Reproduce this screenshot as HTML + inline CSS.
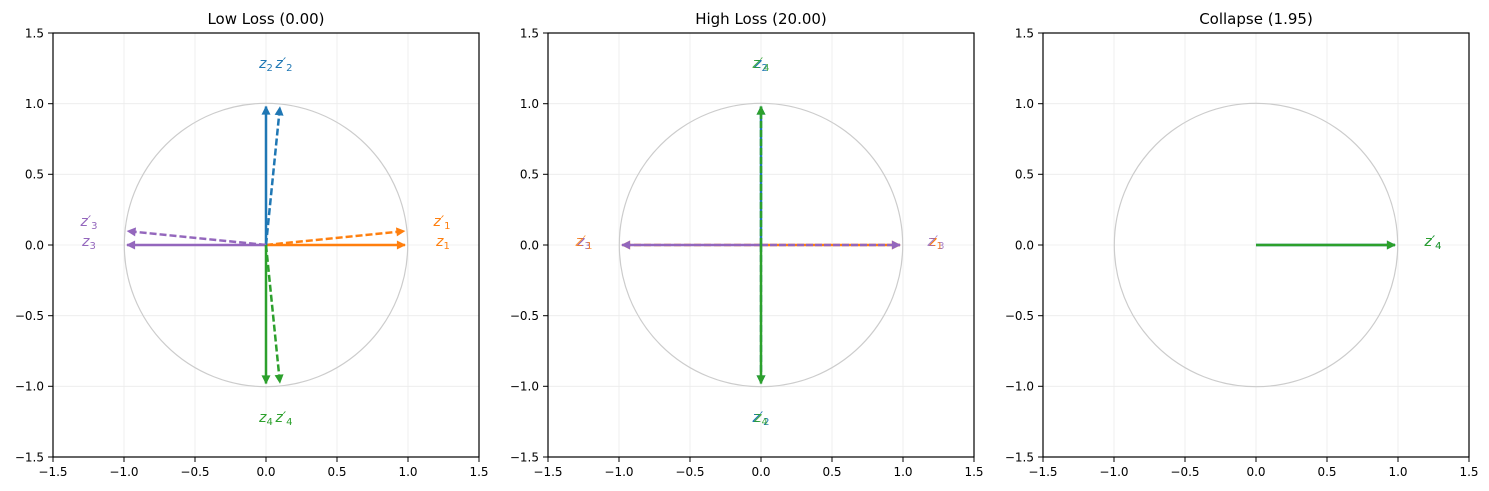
<!DOCTYPE html>
<html><head><meta charset="utf-8"><style>
body{margin:0;background:#fff}
svg{display:block}
text{font-family:"DejaVu Sans","Liberation Sans",sans-serif}
.t{font-size:12px;fill:#000}
.lb{font-size:14px;font-style:italic}
.sb{font-size:10px;font-style:normal}
</style></head><body>
<svg width="1489" height="491" viewBox="0 0 1489 491" xmlns="http://www.w3.org/2000/svg">
<defs>
<marker id="mb" viewBox="0 0 10 10" refX="9" refY="5" markerWidth="10" markerHeight="9" markerUnits="userSpaceOnUse" orient="auto"><path d="M0,0 L10,5 L0,10 z" fill="#1f77b4"/></marker>
<marker id="mo" viewBox="0 0 10 10" refX="9" refY="5" markerWidth="10" markerHeight="9" markerUnits="userSpaceOnUse" orient="auto"><path d="M0,0 L10,5 L0,10 z" fill="#ff7f0e"/></marker>
<marker id="mp" viewBox="0 0 10 10" refX="9" refY="5" markerWidth="10" markerHeight="9" markerUnits="userSpaceOnUse" orient="auto"><path d="M0,0 L10,5 L0,10 z" fill="#9467bd"/></marker>
<marker id="mg" viewBox="0 0 10 10" refX="9" refY="5" markerWidth="10" markerHeight="9" markerUnits="userSpaceOnUse" orient="auto"><path d="M0,0 L10,5 L0,10 z" fill="#2ca02c"/></marker>
<g id="axes">
<g stroke="#ebebeb" stroke-width="0.8">
<line x1="53" y1="33" x2="53" y2="457"/><line x1="124" y1="33" x2="124" y2="457"/><line x1="195" y1="33" x2="195" y2="457"/><line x1="266" y1="33" x2="266" y2="457"/><line x1="337" y1="33" x2="337" y2="457"/><line x1="408" y1="33" x2="408" y2="457"/>
<line x1="53" y1="103.7" x2="479" y2="103.7"/><line x1="53" y1="174.3" x2="479" y2="174.3"/><line x1="53" y1="245" x2="479" y2="245"/><line x1="53" y1="315.7" x2="479" y2="315.7"/><line x1="53" y1="386.3" x2="479" y2="386.3"/>
</g>
<circle cx="266" cy="245" r="141.7" fill="none" stroke="#cccccc" stroke-width="1.2"/>
<rect x="53" y="33" width="426" height="424" fill="none" stroke="#000" stroke-width="1.2"/>
<g stroke="#000" stroke-width="1">
<line x1="53" y1="457" x2="53" y2="462"/><line x1="124" y1="457" x2="124" y2="462"/><line x1="195" y1="457" x2="195" y2="462"/><line x1="266" y1="457" x2="266" y2="462"/><line x1="337" y1="457" x2="337" y2="462"/><line x1="408" y1="457" x2="408" y2="462"/><line x1="479" y1="457" x2="479" y2="462"/>
<line x1="48" y1="33" x2="53" y2="33"/><line x1="48" y1="103.7" x2="53" y2="103.7"/><line x1="48" y1="174.3" x2="53" y2="174.3"/><line x1="48" y1="245" x2="53" y2="245"/><line x1="48" y1="315.7" x2="53" y2="315.7"/><line x1="48" y1="386.3" x2="53" y2="386.3"/><line x1="48" y1="457" x2="53" y2="457"/>
</g>
<g class="t" text-anchor="middle">
<text x="53" y="476">−1.5</text><text x="124" y="476">−1.0</text><text x="195" y="476">−0.5</text><text x="266" y="476">0.0</text><text x="337" y="476">0.5</text><text x="408" y="476">1.0</text><text x="479" y="476">1.5</text>
</g>
<g class="t" text-anchor="end">
<text x="44" y="37.5">1.5</text><text x="44" y="108">1.0</text><text x="44" y="178.7">0.5</text><text x="44" y="249.5">0.0</text><text x="44" y="320">−0.5</text><text x="44" y="390.7">−1.0</text><text x="44" y="461.5">−1.5</text>
</g>
</g>
</defs>

<!-- Panel 1 -->
<use href="#axes"/>
<text x="266" y="24" text-anchor="middle" font-size="15">Low Loss  (0.00)</text>
<g stroke-width="2.5" fill="none">
<line x1="266" y1="245" x2="405" y2="245" stroke="#ff7f0e" marker-end="url(#mo)"/>
<line x1="266" y1="245" x2="404.5" y2="231.1" stroke="#ff7f0e" stroke-dasharray="7,3" marker-end="url(#mo)"/>
<line x1="266" y1="245" x2="266" y2="106.5" stroke="#1f77b4" marker-end="url(#mb)"/>
<line x1="266" y1="245" x2="279.9" y2="107.2" stroke="#1f77b4" stroke-dasharray="7,3" marker-end="url(#mb)"/>
<line x1="266" y1="245" x2="127" y2="245" stroke="#9467bd" marker-end="url(#mp)"/>
<line x1="266" y1="245" x2="127.5" y2="231.1" stroke="#9467bd" stroke-dasharray="7,3" marker-end="url(#mp)"/>
<line x1="266" y1="245" x2="266" y2="383.5" stroke="#2ca02c" marker-end="url(#mg)"/>
<line x1="266" y1="245" x2="279.9" y2="382.8" stroke="#2ca02c" stroke-dasharray="7,3" marker-end="url(#mg)"/>
</g>
<g class="lb" text-anchor="middle">
<text x="266" y="68" fill="#1f77b4">z<tspan class="sb" dy="3">2</tspan></text>
<text x="284" y="68" fill="#1f77b4">z′<tspan class="sb" dy="3">2</tspan></text>
<text x="443" y="246" fill="#ff7f0e">z<tspan class="sb" dy="3">1</tspan></text>
<text x="442" y="226" fill="#ff7f0e">z′<tspan class="sb" dy="3">1</tspan></text>
<text x="89" y="246" fill="#9467bd">z<tspan class="sb" dy="3">3</tspan></text>
<text x="89" y="226" fill="#9467bd">z′<tspan class="sb" dy="3">3</tspan></text>
<text x="266" y="422" fill="#2ca02c">z<tspan class="sb" dy="3">4</tspan></text>
<text x="284" y="422" fill="#2ca02c">z′<tspan class="sb" dy="3">4</tspan></text>
</g>

<!-- Panel 2 -->
<g transform="translate(495,0)">
<use href="#axes"/>
<text x="266" y="24" text-anchor="middle" font-size="15">High Loss (20.00)</text>
<g stroke-width="2.5" fill="none">
<line x1="266" y1="245" x2="405" y2="245" stroke="#ff7f0e" marker-end="url(#mo)"/>
<line x1="266" y1="245" x2="405" y2="245" stroke="#9467bd" stroke-dasharray="7,2" marker-end="url(#mp)"/>
<line x1="266" y1="245" x2="127" y2="245" stroke="#ff7f0e" stroke-dasharray="7,3" marker-end="url(#mo)"/>
<line x1="266" y1="245" x2="127" y2="245" stroke="#9467bd" marker-end="url(#mp)"/>
<line x1="266" y1="245" x2="266" y2="106.5" stroke="#1f77b4" marker-end="url(#mb)"/>
<line x1="266" y1="245" x2="266" y2="106.5" stroke="#2ca02c" stroke-dasharray="7,2" marker-end="url(#mg)"/>
<line x1="266" y1="245" x2="266" y2="383.5" stroke="#1f77b4" stroke-dasharray="7,3" marker-end="url(#mb)"/>
<line x1="266" y1="245" x2="266" y2="383.5" stroke="#2ca02c" marker-end="url(#mg)"/>
</g>
<g class="lb" text-anchor="middle">
<text x="266" y="68" fill="#1f77b4">z<tspan class="sb" dy="3">2</tspan></text>
<text x="266" y="68" fill="#2ca02c" opacity="0.85">z′<tspan class="sb" dy="3">4</tspan></text>
<text x="441" y="246" fill="#ff7f0e">z<tspan class="sb" dy="3">1</tspan></text>
<text x="441" y="246" fill="#9467bd" opacity="0.8">z′<tspan class="sb" dy="3">3</tspan></text>
<text x="89" y="246" fill="#9467bd">z<tspan class="sb" dy="3">3</tspan></text>
<text x="89" y="246" fill="#ff7f0e" opacity="0.8">z′<tspan class="sb" dy="3">1</tspan></text>
<text x="266" y="422" fill="#1f77b4">z′<tspan class="sb" dy="3">2</tspan></text>
<text x="266" y="422" fill="#2ca02c" opacity="0.85">z<tspan class="sb" dy="3">4</tspan></text>
</g>
</g>

<!-- Panel 3 -->
<g transform="translate(990,0)">
<use href="#axes"/>
<text x="266" y="24" text-anchor="middle" font-size="15">Collapse  (1.95)</text>
<g stroke-width="2.5" fill="none">
<line x1="266" y1="245" x2="405" y2="245" stroke="#1f77b4" marker-end="url(#mb)"/>
<line x1="266" y1="245" x2="405" y2="245" stroke="#2ca02c" marker-end="url(#mg)"/>
</g>
<g class="lb" text-anchor="middle">
<text x="443" y="246" fill="#1f77b4">z′<tspan class="sb" dy="3">4</tspan></text>
<text x="443" y="246" fill="#2ca02c">z′<tspan class="sb" dy="3">4</tspan></text>
</g>
</g>
</svg>
</body></html>
